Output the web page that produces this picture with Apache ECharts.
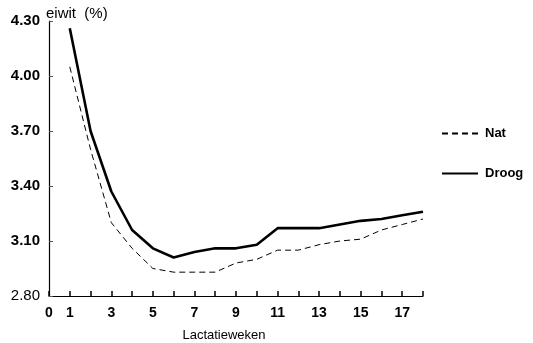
<!DOCTYPE html>
<html>
<head>
<meta charset="utf-8">
<script src="https://cdn.jsdelivr.net/npm/echarts@6/dist/echarts.min.js"></script>
<style>
html,body{margin:0;padding:0;background:#fff;}
#chartmain{width:533px;height:343px;}
</style>
</head>
<body>
<div id="chartmain"></div>
<script>
// weken en eiwitgehalte
var weeks = [1,2,3,4,5,6,7,8,9,10,11,12,13,14,15,16,17,18];
var nat   = [4.05,3.60,3.20,3.06,2.95,2.93,2.93,2.93,2.98,3.00,3.05,3.05,3.08,3.10,3.11,3.16,3.19,3.22];
var droog = [4.26,3.70,3.37,3.16,3.06,3.01,3.04,3.06,3.06,3.08,3.17,3.17,3.17,3.19,3.21,3.22,3.24,3.26];
var xLabels = [0,1,3,5,7,9,11,13,15,17];

function pairs(ys){
    var out=[];
    for(var i=0;i<weeks.length;i++){ out.push([weeks[i],ys[i]]); }
    return out;
}

var font = '"Liberation Sans", Arial, sans-serif';
var myChart = echarts.init(document.getElementById('chartmain'));
myChart.setOption({
    animation:false,
    backgroundColor:'#fff',
    grid:{left:49,right:110,top:21,bottom:47,containLabel:false,outerBoundsMode:'none'},
    legend:{
        orient:'vertical',
        left:436,
        top:122,
        itemWidth:36,
        itemHeight:10,
        itemGap:27,
        itemStyle:{opacity:0},
        textStyle:{fontFamily:font,fontSize:13,fontWeight:'bold',color:'#000',padding:[0,0,0,2]},
        data:['Nat','Droog']
    },
    xAxis:{
        type:'value',
        min:0,max:18,interval:1,
        name:'Lactatieweken',
        nameLocation:'middle',
        nameGap:33,
        nameTextStyle:{fontFamily:font,fontSize:13,color:'#000',padding:[0,24,0,0]},
        axisLine:{show:true,lineStyle:{color:'#000',width:1.2}},
        axisTick:{show:true,inside:true,length:5,lineStyle:{color:'#000',width:1.5}},
        axisLabel:{
            fontFamily:font,fontSize:14,fontWeight:'bold',color:'#000',margin:10,
            formatter:function(v){ return xLabels.indexOf(v)>=0 ? String(v) : ''; }
        },
        splitLine:{show:false}
    },
    yAxis:{
        type:'value',
        min:2.8,max:4.3,interval:0.3,
        name:'eiwit  (%)',
        nameLocation:'end',
        nameGap:0,
        nameTextStyle:{fontFamily:font,fontSize:15,color:'#000',align:'left',padding:[0,0,0,-3]},
        axisLine:{show:true,lineStyle:{color:'#000',width:1.2}},
        axisTick:{show:true,inside:true,length:4,lineStyle:{color:'#555'}},
        axisLabel:{
            fontFamily:font,fontSize:15,color:'#000',margin:9,
            formatter:function(v){
                var s=v.toFixed(2);
                return Math.abs(v-2.8)<0.001 ? '{n|'+s+'}' : '{b|'+s+'}';
            },
            rich:{
                b:{fontFamily:font,fontSize:15,fontWeight:'bold',color:'#000'},
                n:{fontFamily:font,fontSize:15,color:'#000'}
            }
        },
        splitLine:{show:false}
    },
    series:[{
        name:'Nat',
        type:'line',
        symbol:'none',
        data:pairs(nat),
        lineStyle:{color:'#000',width:1,type:[6,4]},
        itemStyle:{color:'#000'}
    },{
        name:'Droog',
        type:'line',
        symbol:'none',
        data:pairs(droog),
        lineStyle:{color:'#000',width:2.6},
        itemStyle:{color:'#000'}
    }]
});
</script>
</body>
</html>
